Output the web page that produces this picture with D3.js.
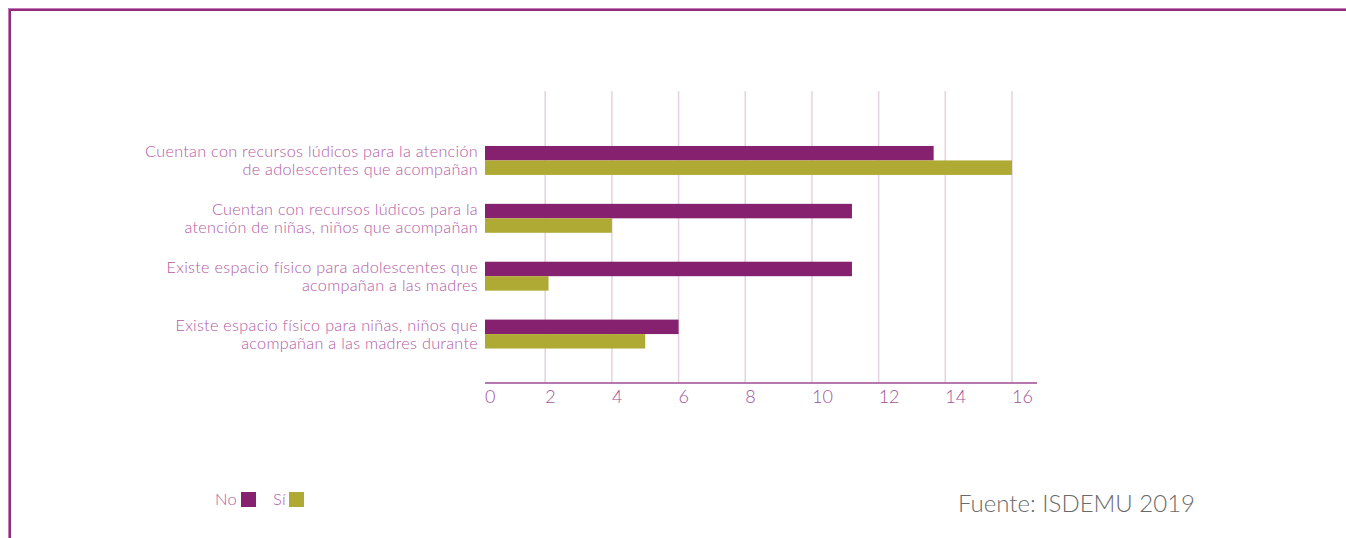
<!DOCTYPE html>
<html>
<head>
<meta charset="utf-8">
<script src="https://cdn.jsdelivr.net/npm/d3@7"></script>
<style>
  html, body { margin: 0; padding: 0; background: #ffffff; }
  svg { display: block; }
  text { font-family: "Lato", "Open Sans", sans-serif; font-weight: 300; }
</style>
</head>
<body>
<svg id="chart" width="1346" height="538"></svg>
<script>
// ---- data ----
const categories = [
  ["Cuentan con recursos lúdicos para la atención", "de adolescentes que acompañan"],
  ["Cuentan con recursos lúdicos para la", "atención de niñas, niños que acompañan"],
  ["Existe espacio físico para adolescentes que", "acompañan a las madres"],
  ["Existe espacio físico para niñas, niños que", "acompañan a las madres durante"]
];
const seriesNames = ["No", "Sí"];
const noValues = [13.65, 11.2, 11.2, 6];
const siValues = [16, 4, 2.1, 5];
const tickValues = [0, 2, 4, 6, 8, 10, 12, 14, 16];
const sourceText = "Fuente: ISDEMU 2019";

// ---- styles ----
const colors = { "No": "#86216f", "Sí": "#aeaa33" };
const labelColor = "#b35aa3";
const tickColor = "#a2519b";
const axisColor = "#9c4a95";
const gridColor = "#e6d5e1";
const frameColor = "#922a7e";

const svg = d3.select("#chart");

// frame
svg.append("path")
  .attr("d", "M9.5,538 L9.5,9.5 L1346,9.5")
  .attr("fill", "none")
  .attr("stroke", frameColor)
  .attr("stroke-width", 3);
svg.append("path")
  .attr("d", "M8.5,538 L8.5,8.5 L1346,8.5")
  .attr("fill", "none")
  .attr("stroke", "#c47db5")
  .attr("stroke-width", 1);

// scales
const axisStart = 485, axisEnd = 1037;
const gridTop = 91, gridBottom = 383;
const x = d3.scaleLinear().domain([0, 16]).range([478.5, 1012]);
const y = d3.scaleBand().domain(d3.range(categories.length)).range([131.5, 363]).paddingInner(0).paddingOuter(0);
const yInner = d3.scaleBand().domain(seriesNames).range([0, y.bandwidth()]).paddingOuter(1).paddingInner(0);

// clip so bars start at the axis start
svg.append("defs").append("clipPath").attr("id", "plotclip")
  .append("rect").attr("x", axisStart).attr("y", gridTop).attr("width", axisEnd - axisStart).attr("height", gridBottom - gridTop);

// gridlines
svg.append("g").selectAll("line")
  .data(tickValues.filter(d => d > 0))
  .join("line")
  .attr("x1", d => x(d)).attr("x2", d => x(d))
  .attr("y1", gridTop).attr("y2", gridBottom)
  .attr("stroke", gridColor).attr("stroke-width", 1.6);

// bars
const rows = categories.map((c, i) => ({ i, values: [
  { name: "No", value: noValues[i] },
  { name: "Sí", value: siValues[i] }
]}));
const barG = svg.append("g").attr("clip-path", "url(#plotclip)");
barG.selectAll("g").data(rows).join("g")
  .attr("transform", d => `translate(0,${y(d.i)})`)
  .selectAll("rect").data(d => d.values).join("rect")
  .attr("x", x(0))
  .attr("y", d => yInner(d.name))
  .attr("width", d => x(d.value) - x(0))
  .attr("height", yInner.bandwidth())
  .attr("fill", d => colors[d.name]);

// axis line
svg.append("line")
  .attr("x1", axisStart).attr("x2", axisEnd)
  .attr("y1", gridBottom).attr("y2", gridBottom)
  .attr("stroke", axisColor).attr("stroke-width", 1.6);

// tick labels
svg.append("g").selectAll("text")
  .data(tickValues).join("text")
  .attr("x", d => Math.max(x(d), axisStart))
  .attr("y", 403)
  .attr("text-anchor", "start")
  .attr("font-size", 18)
  .attr("fill", tickColor)
  .text(d => d);

// category labels
const catG = svg.append("g").selectAll("text")
  .data(categories).join("text")
  .attr("text-anchor", "end")
  .attr("font-size", 16.2)
  .attr("letter-spacing", 0.3)
  .attr("fill", labelColor);
catG.each(function(lines, i) {
  const cy = y(i) + y.bandwidth() / 2;
  d3.select(this).selectAll("tspan").data(lines).join("tspan")
    .attr("x", 478)
    .attr("y", (d, j) => cy - 3 + j * 18)
    .text(d => d);
});

// legend
const legend = [
  { name: "No", tx: 237, rx: 241 },
  { name: "Sí", tx: 286, rx: 289 }
];
const lg = svg.append("g");
lg.selectAll("text").data(legend).join("text")
  .attr("x", d => d.tx).attr("y", 505)
  .attr("text-anchor", "end")
  .attr("font-size", 16.5)
  .attr("letter-spacing", 0.3)
  .attr("fill", labelColor)
  .text(d => d.name);
lg.selectAll("rect").data(legend).join("rect")
  .attr("x", d => d.rx).attr("y", 492)
  .attr("width", 15).attr("height", 15)
  .attr("fill", d => colors[d.name]);

// source
svg.append("text")
  .attr("x", 958).attr("y", 512)
  .attr("font-size", 24)
  .attr("fill", "#6a6a6a")
  .text(sourceText);
</script>
</body>
</html>
